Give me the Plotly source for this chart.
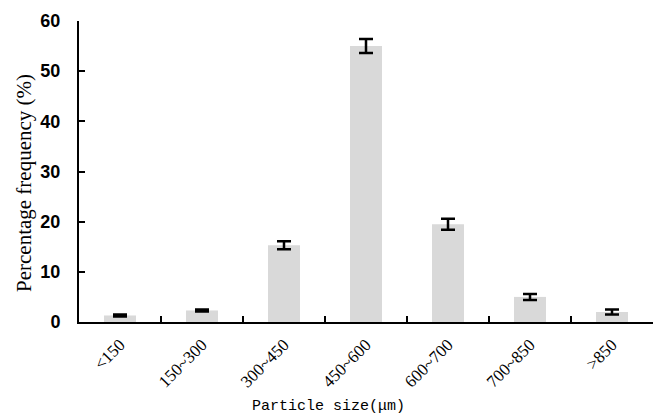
import plotly.graph_objects as go

categories = ["<150", "150~300", "300~450", "450~600", "600~700", "700~850", ">850"]
values = [1.3, 2.3, 15.3, 55.0, 19.5, 5.0, 2.0]
errors = [0.2, 0.2, 0.8, 1.4, 1.1, 0.6, 0.5]

fig = go.Figure()
fig.add_trace(go.Bar(
    x=categories, y=values,
    marker=dict(color="#d9d9d9", line=dict(width=0)),
    width=0.39,
    error_y=dict(type="data", array=errors, visible=True,
                 color="black", thickness=2.5, width=7),
))

fig.update_layout(
    width=653, height=417,
    margin=dict(l=79, r=0, t=21, b=95),
    paper_bgcolor="white", plot_bgcolor="white",
    showlegend=False,
    xaxis=dict(
        type="category",
        showline=True, linecolor="black", linewidth=2,
        ticks="inside", tickson="boundaries", ticklen=6, tickwidth=2, tickcolor="black",
        tickangle=-45,
        ticklabelstandoff=4,
        tickfont=dict(family="Liberation Serif", size=17, color="black"),
        showgrid=False, zeroline=False,
    ),
    yaxis=dict(
        range=[0, 60], dtick=10,
        showline=True, linecolor="black", linewidth=2,
        ticks="inside", ticklen=6, tickwidth=2, tickcolor="black",
        ticklabelstandoff=13,
        tickfont=dict(family="Liberation Sans", size=18, color="black", weight="bold"),
        showgrid=False, zeroline=False,
    ),
    annotations=[
        dict(text="Particle size(μm)", xref="paper", yref="paper",
             x=0.435, y=0, xanchor="center", yanchor="middle", yshift=-84,
             showarrow=False,
             font=dict(family="Liberation Mono", size=15, color="black")),
        dict(text="Percentage frequency (%)", xref="paper", yref="paper",
             x=-0.0957, y=0.462, xanchor="center", yanchor="middle",
             textangle=-90, showarrow=False,
             font=dict(family="Liberation Serif", size=21, color="black")),
    ],
)

fig.write_html("out.html")
